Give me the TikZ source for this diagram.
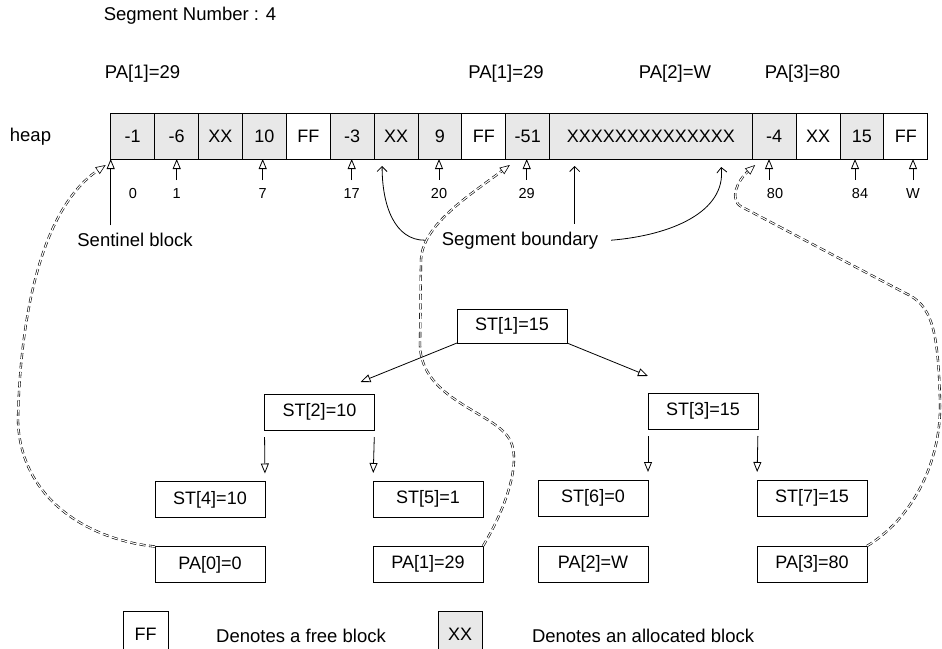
\documentclass[tikz,border=0pt]{standalone}
\usepackage{fontspec}
\setmainfont{Liberation Sans}
\usepackage{tikz}
\usetikzlibrary{positioning, arrows.meta, calc}

\begin{document}
\begin{tikzpicture}[x=1pt, y=-1pt, line width=0.8pt, >={Triangle[open, length=10pt, width=8pt]},
  every node/.style={inner sep=0pt, outer sep=0pt},
  cell/.style={draw, line width=1pt, minimum width=43.9pt, minimum height=46pt, font=\fontsize{18}{20}\selectfont},
  used/.style={cell, fill=black!9},
  box/.style={draw, line width=0.9pt, minimum width=110pt, minimum height=36pt, font=\fontsize{18}{21}\selectfont},
  tag/.style={anchor=base, font=\fontsize{18.5}{21}\selectfont},
  idx/.style={anchor=base, font=\fontsize{14.5}{16}\selectfont},
  barb/.style={line width=0.8pt, -{Straight Barb[length=5pt, width=10pt]}},
  link/.style={->, line width=0.6pt, double, double distance=1.1pt, dash pattern=on 6pt off 3.5pt}]
  \useasboundingbox (0,0) rectangle (942,648);
  \clip (0,0) rectangle (942,648);
  \fill[white] (0,0) rectangle (942,648);

  \node[tag] (segno) at (190,20) {Segment Number : 4};
  \node[tag] (ptop0) at (142.5,78) {PA[1]=29};
  \node[tag] (ptop1) at (506,78) {PA[1]=29};
  \node[tag] (ptop2) at (675,78) {PA[2]=W};
  \node[tag] (ptop3) at (802.5,78) {PA[3]=80};
  \node[tag] (heap) at (30.5,141) {heap};

  \node[used] (c1) at (132.65,136) {-1};
  \node[used] (c2) [right=0pt of c1] {-6};
  \node[used] (c3) [right=0pt of c2] {XX};
  \node[used] (c4) [right=0pt of c3] {10};
  \node[cell] (c5) [right=0pt of c4] {FF};
  \node[used] (c6) [right=0pt of c5] {-3};
  \node[used] (c7) [right=0pt of c6] {XX};
  \node[used] (c8) [right=0pt of c7] {9};
  \node[cell] (c9) [right=0pt of c8] {FF};
  \node[used] (c10) [right=0pt of c9] {-51};
  \node[used, minimum width=202.5pt] (c11) [right=0pt of c10] {XXXXXXXXXXXXXX};
  \node[used] (c12) [right=0pt of c11] {-4};
  \node[cell] (c13) [right=0pt of c12] {XX};
  \node[used] (c14) [right=0pt of c13] {15};
  \node[cell] (c15) [right=0pt of c14] {FF};

  \node[idx] (i0) at (133,198) {0};
  \node[idx] (i1) at (176.7,198) {1};
  \node[idx] (i7) at (262.7,198) {7};
  \node[idx] (i17) at (351.7,198) {17};
  \node[idx] (i20) at (439,198) {20};
  \node[idx] (i29) at (526.7,198) {29};
  \node[idx] (i80) at (775,198) {80};
  \node[idx] (i84) at (860,198) {84};
  \node[idx] (iw) at (913,198) {W};
  \draw[->] ([yshift=8pt]i1.north) -- (i1.north |- c2.south);
  \draw[->] ([yshift=8pt]i7.north) -- (i7.north |- c4.south);
  \draw[->] ([yshift=8pt]i17.north) -- (i17.north |- c6.south);
  \draw[->] ([yshift=8pt]i20.north) -- (i20.north |- c8.south);
  \draw[->] ([yshift=8pt]i29.north) -- (i29.north |- c10.south);
  \draw[->] ([xshift=-6pt,yshift=8pt]i80.north) -- ([xshift=-6pt]i80.north |- c12.south);
  \draw[->] ([xshift=-5pt,yshift=8pt]i84.north) -- ([xshift=-5pt]i84.north |- c14.south);
  \draw[->] ([yshift=8pt]iw.north) -- (iw.north |- c15.south);

  \node[tag] (sentl) at (135,246.7) {Sentinel block};
  \draw[->] ($(sentl.north -| c1.south west)+(0,-8)$) -- (c1.south west);

  \node[tag] (segb) at (520,245) {Segment boundary};
  \draw[barb] ($(segb.north -| c11.south west)+(25,-8)$) -- ($(c11.south west)+(25,7)$);
  \draw[barb] ($(segb.west)+(-17,0)$) .. controls +(-30,0) and +(0,40) .. ($(c7.south west)+(8,7)$);
  \draw[barb] ($(segb.east)+(13,0)$) .. controls +(60,-5) and +(5,45) .. ($(c11.south east)+(-31,8)$);

  \node[box, minimum height=34pt] (st1) at (512,326) {ST[1]=15};
  \node[box] (st2) at (319.5,412) {ST[2]=10};
  \node[box] (st3) at (703,411) {ST[3]=15};
  \node[box] (st4) at (210,499.5) {ST[4]=10};
  \node[box] (st5) at (428,499) {ST[5]=1};
  \node[box] (st6) at (593,498) {ST[6]=0};
  \node[box] (st7) at (812,498) {ST[7]=15};
  \node[box] (pa0) [below=29pt of st4] {PA[0]=0};
  \node[box] (pa1) [below=29pt of st5] {PA[1]=29};
  \node[box] (pa2) [below=30pt of st6] {PA[2]=W};
  \node[box] (pa3) [below=30pt of st7] {PA[3]=80};

  \draw[->] (st1.south west) -- ([xshift=-14pt,yshift=12pt]st2.north east);
  \draw[->] (st1.south east) -- ([yshift=17pt]st3.north west);
  \draw[->, shorten <=7pt, shorten >=8pt] (st2.south west) -- (st4.north east);
  \draw[->, shorten <=7pt, shorten >=8pt] (st2.south east) -- (st5.north west);
  \draw[->, shorten <=7pt, shorten >=8pt] (st3.south west) -- (st6.north east);
  \draw[->, shorten <=7pt, shorten >=8pt] (st3.south east) -- (st7.north west);

  \draw[link] (pa0.north west) .. controls (90,540) and (20,500) .. (18,420)
    .. controls (20,320) and (40,210) .. ($(c1.south west)+(-5,6)$);
  \draw[link] (pa1.north east) .. controls (505,510) and (522,462) .. (510,440)
    .. controls (495,412) and (421,400) .. (420,345) -- (421,260)
    .. controls (422,225) and (470,195) .. ($(c10.south west)+(4,6)$);
  \draw[link] (pa3.north east) .. controls (910,520) and (942,465) .. (940,400)
    .. controls (938,330) and (932,305) .. (905,293) -- (742,207)
    .. controls (728,200) and (738,180) .. ($(c12.south west)+(3,6)$);

  \node[cell, minimum width=45pt] (kfree) at (145.5,634) {FF};
  \node[tag] (tfree) at (301,642) {Denotes a free block};
  \node[used, minimum width=44pt] (kused) at (460,634) {XX};
  \node[tag, anchor=base west] (tused) at (532,642) {Denotes an allocated block};
\end{tikzpicture}
\end{document}
